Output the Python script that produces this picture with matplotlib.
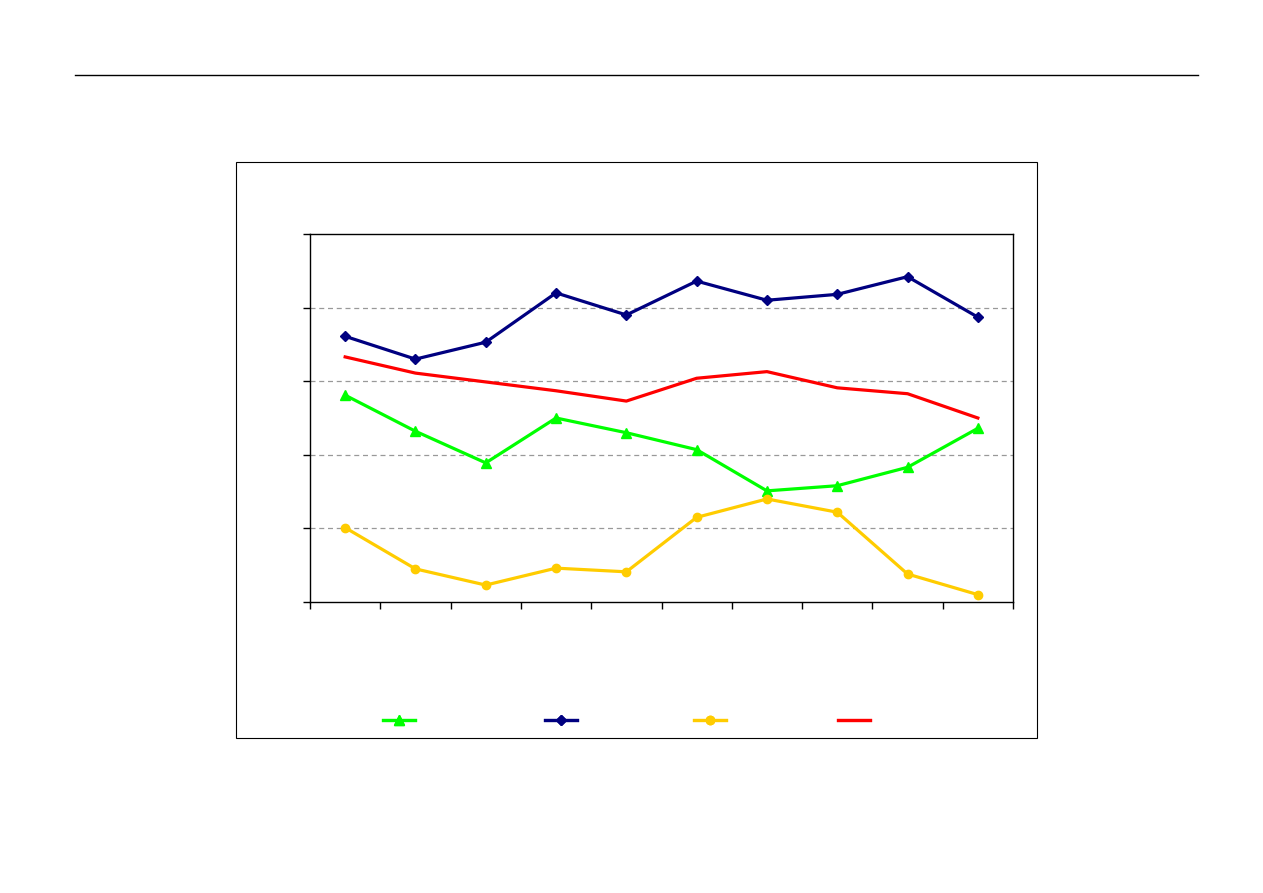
import numpy as np
import matplotlib
matplotlib.use("Agg")
import matplotlib.pyplot as plt
from matplotlib.patches import Rectangle
from matplotlib.lines import Line2D

# ten categories, no labels shown in the reference
x = np.arange(1, 11)

green = [28.1, 23.2, 18.9, 25.0, 23.0, 20.7, 15.1, 15.8, 18.3, 23.6]
navy = [36.1, 33.0, 35.3, 42.0, 39.0, 43.6, 41.0, 41.8, 44.2, 38.7]
gold = [10.1, 4.5, 2.3, 4.6, 4.1, 11.5, 14.0, 12.2, 3.8, 1.0]
red = [33.3, 31.1, 29.9, 28.7, 27.3, 30.4, 31.3, 29.1, 28.3, 25.0]

W, H = 1263, 893
fig = plt.figure(figsize=(W / 100, H / 100), dpi=100)

# top rule line
fig.add_artist(Line2D([75 / W, 1198 / W], [1 - 75 / H, 1 - 75 / H],
                      color='black', lw=1.0, transform=fig.transFigure))
# chart frame
fig.add_artist(Rectangle((236 / W, 1 - 738 / H), (1037 - 236) / W, (738 - 162) / H,
                         fill=False, ec='black', lw=0.8, transform=fig.transFigure))

ax = fig.add_axes([310 / W, 1 - 602 / H, (1013 - 310) / W, (602 - 234) / H])

l1, = ax.plot(x, green, color='#00FF00', lw=2.3, marker='^', ms=7.5)
l2, = ax.plot(x, navy, color='#000080', lw=2.3, marker='D', ms=5.5)
l3, = ax.plot(x, gold, color='#FFCC00', lw=2.3, marker='o', ms=6)
l4, = ax.plot(x, red, color='#FF0000', lw=2.3)

ax.set_xlim(0.5, 10.5)
ax.set_ylim(0, 50)
ax.set_xticks(np.arange(0.5, 11, 1))
ax.set_yticks(np.arange(0, 51, 10))
ax.set_xticklabels([])
ax.set_yticklabels([])
ax.tick_params(direction='out', length=5, width=1, color='black')
for s in ax.spines.values():
    s.set_linewidth(1.0)
    s.set_color('black')
for yv in [10, 20, 30, 40]:
    ax.axhline(yv, color='#999999', lw=0.9, ls=(0, (4, 3)), zorder=0)

# legend keys (labels are blank in the reference)
for h, cx in zip([l1, l2, l3, l4], [399, 561, 710, 854]):
    lg = fig.legend([h], [''], loc='center', bbox_to_anchor=(cx / W, 1 - 721 / H),
                    frameon=False, handlelength=2.3, handletextpad=0.0,
                    borderpad=0, fontsize=10)
    fig.add_artist(lg)

fig.savefig('out.png', dpi=100)
